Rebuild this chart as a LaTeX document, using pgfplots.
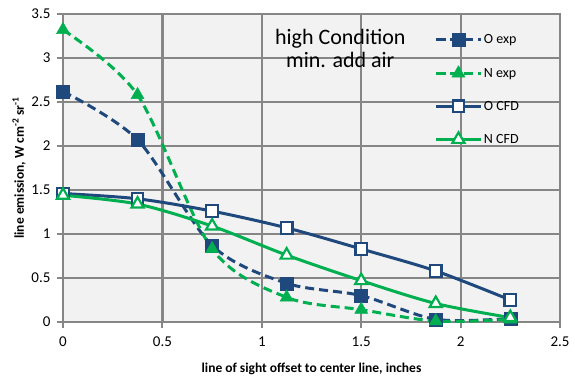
\documentclass[border=0pt]{standalone}
\usepackage{fontspec}
\setmainfont{Carlito}
\usepackage{pgfplots}
\pgfplotsset{compat=1.18}
\definecolor{oblue}{HTML}{1F497D}
\definecolor{ngreen}{HTML}{00B050}
\definecolor{gridgray}{HTML}{868686}
\definecolor{plotbg}{HTML}{F2F2F2}
\begin{document}
\begin{tikzpicture}[x=1pt,y=1pt]
\path[use as bounding box] (-63,-57) rectangle (512,322);
\begin{axis}[
  scale only axis,
  width=497pt, height=308pt,
  xmin=0, xmax=2.5, ymin=0, ymax=3.5,
  xtick={0,0.5,...,2.5}, ytick={0,0.5,...,3.5},
  xticklabels={0,0.5,1,1.5,2,2.5},
  yticklabels={0,0.5,1,1.5,2,2.5,3,3.5},
  axis background/.style={fill=plotbg},
  grid=major,
  major grid style={gridgray, line width=2.2pt},
  axis line style={gridgray, line width=2.2pt},
  tick style={gridgray, line width=2pt},
  tick align=outside, major tick length=6pt,
  xtick pos=bottom, ytick pos=left,
  /pgf/number format/assume math mode=true,
  tick label style={font=\fontsize{15}{17}\selectfont, black},
  xticklabel style={yshift=-5pt},
  yticklabel style={xshift=-3pt},
  xlabel={\bfseries line of sight offset to center line, inches},
  ylabel={\bfseries line emission, W cm\textsuperscript{-2} sr\textsuperscript{-1}},
  label style={font=\fontsize{13.5}{15}\selectfont},
  xlabel style={yshift=-10pt},
  ylabel style={yshift=-1pt},
  legend style={draw=none, fill=none, at={(0.748,0.94)}, anchor=north west,
    font=\fontsize{14}{16}\selectfont, row sep=18.5pt, inner sep=0pt},
  legend cell align=left,
  legend image code/.code={
    \draw[mark repeat=2, mark phase=2] plot coordinates {(0pt,0pt) (22pt,0pt) (44pt,0pt)};
  },
  clip=false,
]
% experimental oxygen
\addplot+[smooth, tension=0.5, oblue, line width=3pt, dash pattern=on 9pt off 5pt,
  mark=square*, mark size=6.5pt, mark options={solid, fill=oblue, draw=oblue, line width=0.5pt}]
  coordinates {(0,2.62) (0.375,2.07) (0.75,0.87) (1.125,0.44) (1.5,0.30) (1.875,0.03) (2.25,0.04)};
\addlegendentry{O exp}
% experimental nitrogen
\addplot+[smooth, tension=0.5, ngreen, line width=3pt, dash pattern=on 9pt off 5pt,
  mark=triangle*, mark size=7.5pt, mark options={solid, fill=ngreen, draw=ngreen, line width=0.5pt}]
  coordinates {(0,3.32) (0.375,2.58) (0.75,0.83) (1.125,0.28) (1.5,0.14) (1.875,0.01) (2.25,0.03)};
\addlegendentry{N exp}
% CFD oxygen
\addplot+[smooth, tension=0.5, oblue, line width=3pt, solid,
  mark=square*, mark size=5.8pt, mark options={fill=white, draw=oblue, line width=2.2pt}]
  coordinates {(0,1.46) (0.375,1.40) (0.75,1.26) (1.125,1.07) (1.5,0.83) (1.875,0.58) (2.25,0.25)};
\addlegendentry{O CFD}
% CFD nitrogen
\addplot+[smooth, tension=0.5, ngreen, line width=3pt, solid,
  mark=triangle*, mark size=7pt, mark options={fill=white, draw=ngreen, line width=2.2pt}]
  coordinates {(0,1.44) (0.375,1.34) (0.75,1.09) (1.125,0.76) (1.5,0.47) (1.875,0.21) (2.25,0.05)};
\addlegendentry{N CFD}
\node[align=center, font=\fontsize{22}{23}\selectfont] at (axis cs:1.395,3.11) {high Condition\\min. add air};
\end{axis}
\end{tikzpicture}
\end{document}
